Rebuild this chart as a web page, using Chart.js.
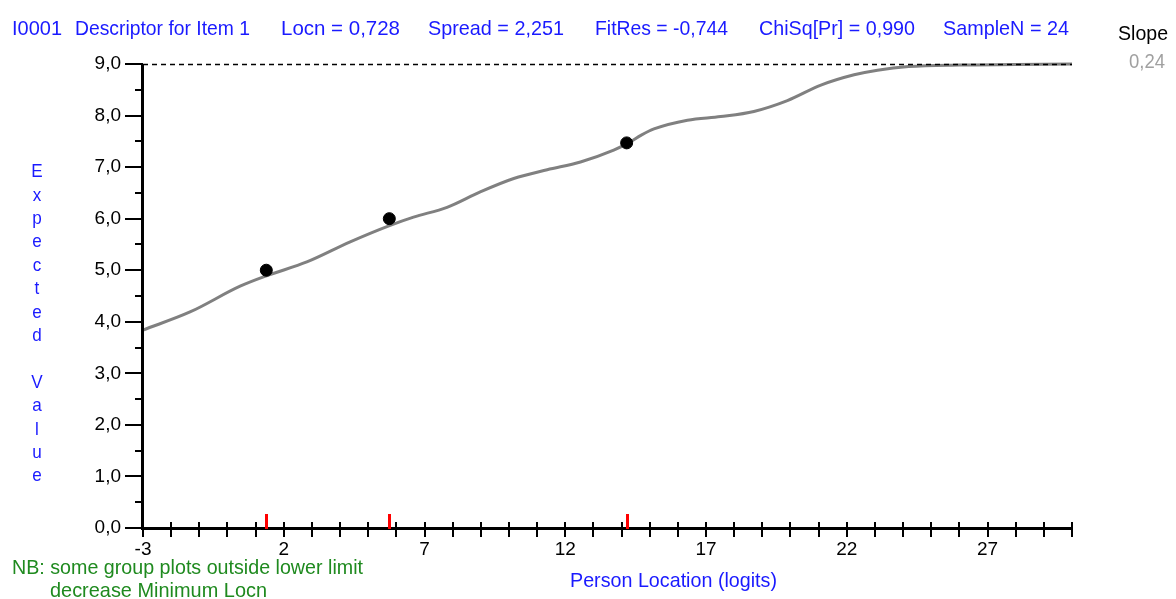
<!DOCTYPE html>
<html>
<head>
<meta charset="utf-8">
<script src="https://cdn.jsdelivr.net/npm/chart.js@4/dist/chart.umd.min.js"></script>
<style>
  html, body { margin: 0; padding: 0; background: #ffffff; }
  #wrap { width: 1176px; height: 599px; }
</style>
</head>
<body>
<div id="wrap"><canvas id="icc" width="1176" height="599"></canvas></div>
<script>
// Expected-value curve of item I0001 (person location in logits vs expected score)
const curveX = [-3, -1.33, 0.45, 1.43, 2.82, 4.36, 5.78, 6.61, 7.80, 8.98, 10.17, 11.36, 12.54,
                13.72, 14.25, 14.7, 15.15, 16.34, 17.52, 18.70, 19.89, 21.08, 22.26, 23.09, 24.2, 26, 28, 30];
const curveY = [3.84, 4.19, 4.69, 4.90, 5.16, 5.55, 5.87, 6.03, 6.22, 6.52, 6.78, 6.95, 7.10,
                7.33, 7.47, 7.62, 7.74, 7.91, 7.98, 8.08, 8.29, 8.59, 8.79, 8.88, 8.95, 8.98, 8.99, 9.0];

// Observed class-interval means
const groupX = [1.38, 5.75, 14.18];
const groupY = [5.0, 6.0, 7.47];

// Axis settings
const xMin = -3, xMax = 30;
const yMin = 0, yMax = 9;
const xTickLabels = [-3, 2, 7, 12, 17, 22, 27];
const yTickLabels = [0, 1, 2, 3, 4, 5, 6, 7, 8, 9];

// Header statistics
const headerItems = [
  'I0001', 'Descriptor for Item 1', 'Locn = 0,728', 'Spread = 2,251',
  'FitRes = -0,744', 'ChiSq[Pr] = 0,990', 'SampleN = 24'
];
const slopeLabel = 'Slope';
const slopeValue = '0,24';
const yTitle = 'Expected Value';
const xTitle = 'Person Location (logits)';
const noteLines = ['NB: some group plots outside lower limit', 'decrease Minimum Locn'];

const FONT = "'Liberation Sans Narrow', 'Arial Narrow', 'Liberation Sans', Arial, sans-serif";
const BLUE = '#1a1aff';
const GREEN = '#1f8a1f';

function fmt(v) { return v.toFixed(1).replace('.', ','); }

// Draw a string condensed to span [x0, x1]
function fitText(ctx, text, x0, x1, baseline, size, color) {
  ctx.save();
  ctx.font = size + 'px ' + FONT;
  ctx.fillStyle = color;
  ctx.textBaseline = 'alphabetic';
  ctx.textAlign = 'left';
  const w = ctx.measureText(text).width;
  ctx.translate(x0, baseline);
  ctx.scale((x1 - x0) / w, 1);
  ctx.fillText(text, 0, 0);
  ctx.restore();
}

const decorations = {
  id: 'decorations',
  afterDatasetsDraw(chart) {
    const ctx = chart.ctx;
    const xs = chart.scales.x, ys = chart.scales.y;
    const left = xs.getPixelForValue(xMin), right = xs.getPixelForValue(xMax);
    const top = ys.getPixelForValue(yMax), bottom = ys.getPixelForValue(yMin);
    ctx.save();

    // upper asymptote
    ctx.strokeStyle = '#000';
    ctx.lineWidth = 1.5;
    ctx.setLineDash([5, 4]);
    ctx.beginPath();
    ctx.moveTo(left, Math.round(top) + 0.5);
    ctx.lineTo(right, Math.round(top) + 0.5);
    ctx.stroke();
    ctx.setLineDash([]);

    // axes
    ctx.fillStyle = '#000';
    ctx.fillRect(left - 2, top, 3, bottom - top + 2);
    ctx.fillRect(left - 2, bottom - 1, right - left + 3, 3);

    // y ticks: major at integers, minor at halves
    for (let v = yMin; v <= yMax + 1e-9; v += 0.5) {
      const py = Math.round(ys.getPixelForValue(v));
      const major = Math.abs(v - Math.round(v)) < 1e-9;
      const len = major ? 18 : 8;
      ctx.fillRect(left - len, py - 1, len, 2);
    }

    // x ticks at every logit, crossing the axis
    for (let v = xMin; v <= xMax + 1e-9; v += 1) {
      const px = Math.round(xs.getPixelForValue(v));
      ctx.fillRect(px - 1, bottom - 6, 2, 15);
    }

    // class-interval locations
    ctx.fillStyle = '#ff0000';
    groupX.forEach(v => {
      const px = Math.round(xs.getPixelForValue(v));
      ctx.fillRect(px - 1, bottom - 14, 3, 15);
    });

    // header
    const headerSpans = [[12, 62], [75, 250], [281, 400], [428, 564], [595, 728], [759, 915], [943, 1069]];
    headerItems.forEach((t, i) => fitText(ctx, t, headerSpans[i][0], headerSpans[i][1], 35, 21, BLUE));
    fitText(ctx, slopeLabel, 1118, 1168, 40, 21, '#000');
    fitText(ctx, slopeValue, 1129, 1165, 68, 21, '#a0a0a0');

    // vertical stacked y title
    ctx.font = '19px ' + FONT;
    ctx.fillStyle = BLUE;
    ctx.textAlign = 'center';
    ctx.textBaseline = 'middle';
    [...yTitle].forEach((ch, i) => {
      if (ch === ' ') return;
      ctx.save();
      ctx.translate(37, 172 + i * 23.4);
      ctx.scale(0.9, 1);
      ctx.fillText(ch, 0, 0);
      ctx.restore();
    });

    // x title and notes
    fitText(ctx, xTitle, 570, 777, 587, 21, BLUE);
    fitText(ctx, noteLines[0], 12, 363, 574, 21, GREEN);
    fitText(ctx, noteLines[1], 50, 267, 597, 21, GREEN);

    ctx.restore();
  }
};

new Chart(document.getElementById('icc'), {
  type: 'scatter',
  data: {
    datasets: [
      {
        label: 'Expected value',
        data: curveX.map((x, i) => ({ x, y: curveY[i] })),
        showLine: true,
        borderColor: '#808080',
        borderWidth: 3,
        pointRadius: 0,
        cubicInterpolationMode: 'monotone',
        clip: false,
        order: 2
      },
      {
        label: 'Observed',
        data: groupX.map((x, i) => ({ x, y: groupY[i] })),
        showLine: false,
        backgroundColor: '#000',
        borderColor: '#000',
        pointRadius: 6,
        clip: false,
        order: 1
      }
    ]
  },
  options: {
    responsive: false,
    animation: false,
    devicePixelRatio: 1,
    layout: { padding: { left: 0, top: 64, right: 104, bottom: 0 } },
    plugins: { legend: { display: false }, tooltip: { enabled: false } },
    scales: {
      x: {
        type: 'linear', min: xMin, max: xMax,
        grid: { display: false, drawTicks: false },
        border: { display: false },
        afterBuildTicks: s => { s.ticks = xTickLabels.map(v => ({ value: v })); },
        afterFit: s => { s.height = 71; },
        ticks: {
          autoSkip: false, maxRotation: 0, padding: 10,
          color: '#000', font: { family: FONT, size: 19 },
          callback: v => String(v)
        }
      },
      y: {
        type: 'linear', min: yMin, max: yMax,
        grid: { display: false, drawTicks: false },
        border: { display: false },
        afterBuildTicks: s => { s.ticks = yTickLabels.map(v => ({ value: v })); },
        afterFit: s => { s.width = 143; },
        ticks: {
          padding: 22, color: '#000', font: { family: FONT, size: 19 },
          callback: v => fmt(v)
        }
      }
    }
  },
  plugins: [decorations]
});
</script>
</body>
</html>
